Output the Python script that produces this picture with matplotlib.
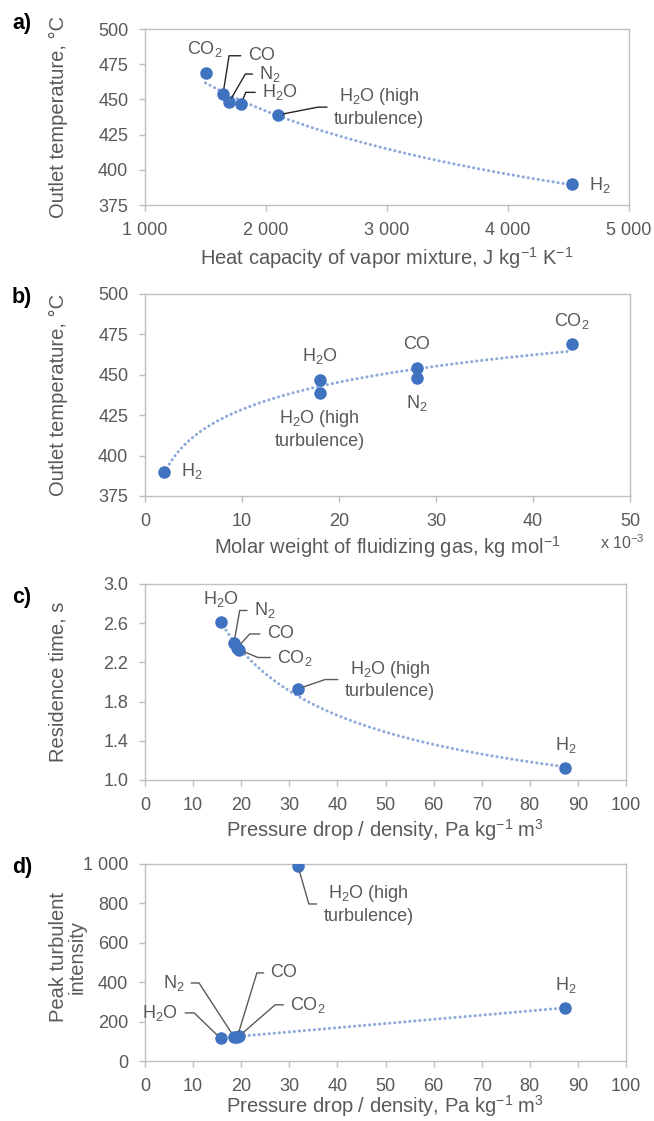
import matplotlib
matplotlib.use("Agg")
import matplotlib.pyplot as plt
from matplotlib import font_manager
import numpy as np

# fonte: tenta a versao "Narrow" (parecida com Arial Narrow), senao a normal
nomes = {f.name for f in font_manager.fontManager.ttflist}
FONTE = 'Liberation Sans Narrow' if 'Liberation Sans Narrow' in nomes else 'Liberation Sans'
plt.rcParams['font.family'] = [FONTE, 'DejaVu Sans']
plt.rcParams['mathtext.fontset'] = 'custom'
plt.rcParams['mathtext.rm'] = FONTE
plt.rcParams['mathtext.it'] = FONTE
plt.rcParams['mathtext.default'] = 'regular'

# DADOS - ordem: H2, H2O, H2O (alta turbulencia), CO, N2, CO2
gases = ['H$_2$', 'H$_2$O', 'H$_2$O (high\nturbulence)', 'CO', 'N$_2$', 'CO$_2$']
cp = [4530, 1795, 2100, 1645, 1695, 1500]          # J kg-1 K-1
temp = [390, 447, 439, 454, 448, 469]              # graus C
massa_molar = [2, 18, 18, 28, 28, 44]              # x 10-3 kg mol-1
dp_rho = [87.4, 15.7, 31.8, 19.2, 18.5, 19.6]      # Pa kg-1 m3
tempo_res = [1.12, 2.61, 1.93, 2.35, 2.40, 2.33]   # s
turb = [270, 115, 990, 123, 123, 127]

# ticks
ticks_a_x = [1000, 2000, 3000, 4000, 5000]
ticks_a_x_lbl = ['1 000', '2 000', '3 000', '4 000', '5 000']
ticks_T = [375, 400, 425, 450, 475, 500]
ticks_b_x = [0, 10, 20, 30, 40, 50]
ticks_cd_x = [0, 10, 20, 30, 40, 50, 60, 70, 80, 90, 100]
ticks_c_y = [1.0, 1.4, 1.8, 2.2, 2.6, 3.0]
ticks_c_y_lbl = ['1.0', '1.4', '1.8', '2.2', '2.6', '3.0']
ticks_d_y = [0, 200, 400, 600, 800, 1000]
ticks_d_y_lbl = ['0', '200', '400', '600', '800', '1 000']

AZUL = '#3f72bf'
AZUL_CLARO = '#8eaadb'
CINZA = '#595959'
BORDA = '#bfbfbf'

fig = plt.figure(figsize=(6.54, 11.21), dpi=100)
H = 1121.0
W = 654.0

def eixo(esq, topo, dir_, base):
    return fig.add_axes([esq / W, 1 - base / H, (dir_ - esq) / W, (base - topo) / H])

axA = eixo(145, 29, 629, 205)
axB = eixo(145, 294, 630, 496)
axC = eixo(145, 584, 626, 780)
axD = eixo(145, 864, 626, 1061)

def estilo(ax, xlabel, ylabel, y_xlabel, x_ylabel, y_ylabel=None):
    for s in ax.spines.values():
        s.set_color(BORDA)
        s.set_linewidth(1.0)
    ax.tick_params(axis='both', colors=BORDA, labelcolor=CINZA, labelsize=13,
                   length=4, width=1.0, pad=8)
    ax.set_xlabel(xlabel, fontsize=14.5, color=CINZA, va='center')
    ax.set_ylabel(ylabel, fontsize=14.5, color=CINZA, va='center', linespacing=1.0)
    # posicoes dos titulos dos eixos em pixels da figura
    p = ax.get_position()
    alt = p.height * H
    larg = p.width * W
    topo = (1 - p.y1) * H
    ax.xaxis.set_label_coords(0.5, 1 - (y_xlabel - topo) / alt)
    if y_ylabel is None:
        ay = 0.5
    else:
        ay = 1 - (y_ylabel - topo) / alt
    ax.yaxis.set_label_coords((x_ylabel - p.x0 * W) / larg, ay)

def tendencia(ax, x, y, tipo):
    x = np.array(x, dtype=float)
    y = np.array(y, dtype=float)
    xs = np.linspace(x.min(), x.max(), 200)
    if tipo == 'potencia':
        b, a = np.polyfit(np.log(x), np.log(y), 1)
        ys = np.exp(a) * xs ** b
    elif tipo == 'log':
        a, b = np.polyfit(np.log(x), y, 1)
        ys = a * np.log(xs) + b
    else:
        a, b = np.polyfit(x, y, 1)
        ys = a * xs + b
    ax.plot(xs, ys, color=AZUL_CLARO, lw=2.2, linestyle=(0, (0.05, 1.6)),
            dash_capstyle='round', zorder=2)

def pontos(ax, x, y):
    ax.plot(x, y, 'o', color=AZUL, markersize=8, zorder=3, linestyle='none')

def rotulo(ax, i, x, y, pos, ang=None, lado='esq', cor_linha=CINZA):
    props = None
    if ang is not None:
        props = dict(arrowstyle='-', color=cor_linha, lw=1.0,
                     relpos=(0, 0.5) if lado == 'esq' else (1, 0.5),
                     shrinkA=3, shrinkB=4,
                     connectionstyle='angle,angleA=0,angleB=%d,rad=0' % ang)
    ax.annotate(gases[i], xy=(x[i], y[i]), xytext=pos, textcoords='data',
                ha='center', va='center', fontsize=13, color=CINZA,
                linespacing=1.3, arrowprops=props, zorder=4)

# ---------------- a)
tendencia(axA, cp, temp, 'potencia')
pontos(axA, cp, temp)
axA.set_xlim(1000, 5000)
axA.set_ylim(375, 500)
axA.set_xticks(ticks_a_x, ticks_a_x_lbl)
axA.set_yticks(ticks_T)
estilo(axA, 'Heat capacity of vapor mixture, J kg$^{-1}$ K$^{-1}$', 'Outlet temperature, °C', 258, 58)
rotulo(axA, 5, cp, temp, (1496, 485.6))
rotulo(axA, 3, cp, temp, (1960, 481), 81, cor_linha='#262626')
rotulo(axA, 4, cp, temp, (2035, 468), 60, cor_linha='#262626')
rotulo(axA, 1, cp, temp, (2116, 455), 68, cor_linha='#262626')
rotulo(axA, 2, cp, temp, (2934, 444.5), 11, cor_linha='#262626')
rotulo(axA, 0, cp, temp, (4760, 389))

# ---------------- b)
tendencia(axB, massa_molar, temp, 'log')
pontos(axB, massa_molar, temp)
axB.set_xlim(0, 50)
axB.set_ylim(375, 500)
axB.set_xticks(ticks_b_x)
axB.set_yticks(ticks_T)
estilo(axB, 'Molar weight of fluidizing gas, kg mol$^{-1}$', 'Outlet temperature, °C', 547, 58)
rotulo(axB, 1, massa_molar, temp, (18, 461.5))
rotulo(axB, 2, massa_molar, temp, (18, 416.5))
rotulo(axB, 3, massa_molar, temp, (28, 469))
rotulo(axB, 4, massa_molar, temp, (28, 432.5))
rotulo(axB, 5, massa_molar, temp, (44, 483))
rotulo(axB, 0, massa_molar, temp, (4.8, 390.5))
axB.text(1.031, -0.232, 'x 10$^{-3}$', transform=axB.transAxes, ha='right', va='center',
         fontsize=11.5, color=CINZA)

# ---------------- c)
tendencia(axC, dp_rho, tempo_res, 'potencia')
pontos(axC, dp_rho, tempo_res)
axC.set_xlim(0, 100)
axC.set_ylim(1.0, 3.0)
axC.set_xticks(ticks_cd_x)
axC.set_yticks(ticks_c_y, ticks_c_y_lbl)
estilo(axC, 'Pressure drop / density, Pa kg$^{-1}$ m$^3$', 'Residence time, s', 830, 58)
rotulo(axC, 1, dp_rho, tempo_res, (15.7, 2.85))
rotulo(axC, 4, dp_rho, tempo_res, (24.9, 2.73), 80)
rotulo(axC, 3, dp_rho, tempo_res, (28.1, 2.49), 48)
rotulo(axC, 5, dp_rho, tempo_res, (31.2, 2.25), -23)
rotulo(axC, 2, dp_rho, tempo_res, (50.9, 2.025), 19)
rotulo(axC, 0, dp_rho, tempo_res, (87.4, 1.36))

# ---------------- d)
tendencia(axD, dp_rho[:1] + dp_rho[3:], turb[:1] + turb[3:], 'linear')
pontos(axD, dp_rho, turb)
axD.set_xlim(0, 100)
axD.set_ylim(0, 1000)
axD.set_xticks(ticks_cd_x)
axD.set_yticks(ticks_d_y, ticks_d_y_lbl)
estilo(axD, 'Pressure drop / density, Pa kg$^{-1}$ m$^3$', 'Peak turbulent\nintensity', 1106, 68, 957)
rotulo(axD, 2, dp_rho, turb, (46.5, 797), -74)
rotulo(axD, 4, dp_rho, turb, (5.9, 396), 123, lado='dir')
rotulo(axD, 1, dp_rho, turb, (3.2, 244), 136, lado='dir')
rotulo(axD, 3, dp_rho, turb, (28.9, 447), 73)
rotulo(axD, 5, dp_rho, turb, (33.9, 285), 41)
rotulo(axD, 0, dp_rho, turb, (87.4, 386))

# letras dos paineis
for letra, y in [('a)', 24), ('b)', 297), ('c)', 597), ('d)', 868)]:
    fig.text(22 / W, 1 - y / H, letra, fontsize=15.5, fontweight='bold', color='black',
             ha='center', va='center', family=['Liberation Sans', 'DejaVu Sans'])

fig.savefig('out.png', dpi=100)
